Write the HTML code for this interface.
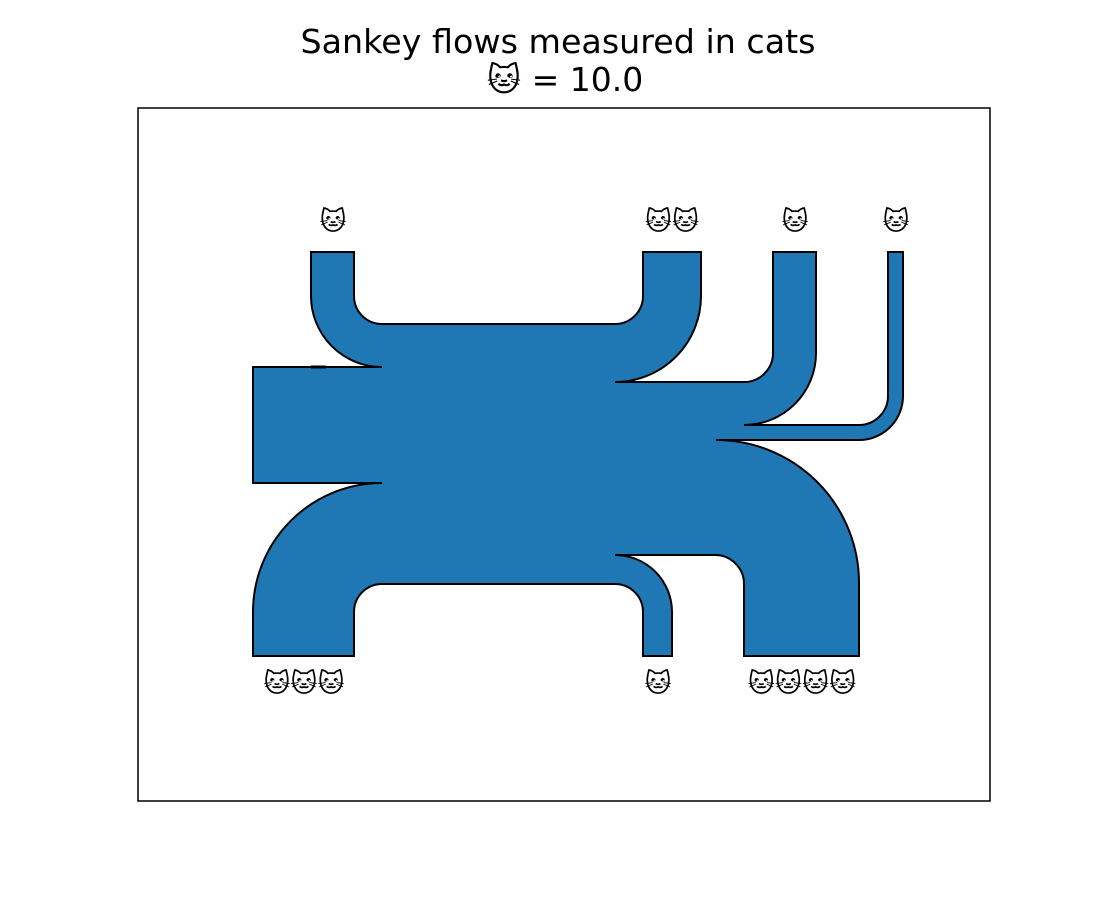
<!DOCTYPE html>
<html><head><meta charset="utf-8"><style>
body{margin:0;background:#fff;width:1100px;height:900px;overflow:hidden}
text{font-family:"DejaVu Sans","Liberation Sans",sans-serif}
</style></head><body>
<svg width="1100" height="900">
<rect width="1100" height="900" fill="#fff"/>
<text x="558" y="53" font-size="33.3" text-anchor="middle">Sankey flows measured in cats</text>
<text x="565" y="91" font-size="33" text-anchor="middle">🐱 = 10.0</text>
<rect x="138" y="108" width="852" height="693" fill="none" stroke="#000" stroke-width="1.5"/>
<path fill="#1f77b4" stroke="#000" stroke-width="2" stroke-linejoin="miter"
d="M253,483 L253,367 L382,367 A71,71 0 0 1 311,296 L311,252 L354,252 L354,296 A28,28 0 0 0 382,324 L615,324 A28,28 0 0 0 643,296 L643,252 L701,252 L701,296 A86,86 0 0 1 615,382 L744,382 A29,29 0 0 0 773,353 L773,252 L816,252 L816,353 A72,72 0 0 1 744,425 L859,425 A29,29 0 0 0 888,396 L888,252 L903,252 L903,396 A44,44 0 0 1 859,440 L716,440 A143,143 0 0 1 859,583 L859,656 L744,656 L744,584 A29,29 0 0 0 715,555 L615,555 A57,57 0 0 1 672,612 L672,656 L643,656 L643,612 A28,28 0 0 0 615,584 L382,584 A28,28 0 0 0 354,612 L354,656 L253,656 L253,612 A129,129 0 0 1 382,483 Z"/>
<line x1="311" y1="367" x2="326" y2="367" stroke="#000" stroke-width="3"/>
<g id="labels"></g>
</svg>
<script>
const flowNames=["top-left","top-middle","top-right-1","top-right-2","bottom-left","bottom-middle","bottom-right"];
const catCounts=[1,2,1,1,3,1,4];
const labelX=[333,672,795,896,304,658,802];
const labelY=[221,221,221,221,683,683,683];
const g=document.getElementById('labels');
catCounts.forEach((n,i)=>{
  const t=document.createElementNS('http://www.w3.org/2000/svg','text');
  t.setAttribute('x',labelX[i]);t.setAttribute('y',labelY[i]+9);
  t.setAttribute('font-size','26');t.setAttribute('text-anchor','middle');
  t.textContent='🐱'.repeat(n);
  
  
  g.appendChild(t);
});
</script>
</body></html>
